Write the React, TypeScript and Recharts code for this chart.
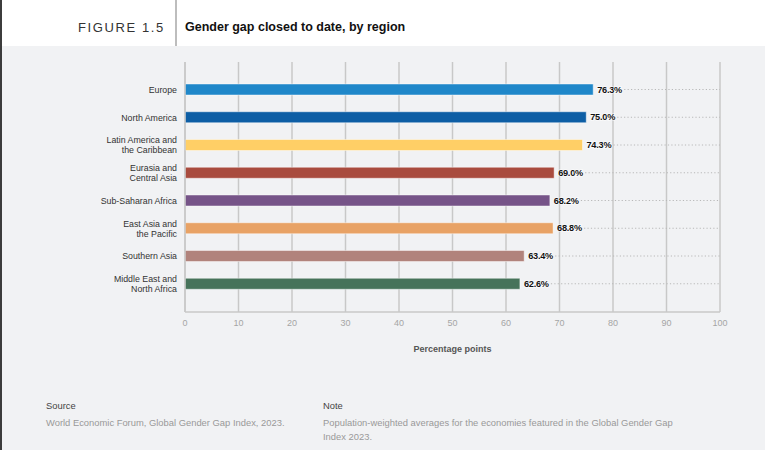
import React from 'react';
import { BarChart, Bar, XAxis, YAxis, CartesianGrid, Cell, LabelList, Label } from 'recharts';

const regions = [
  'Europe',
  'North America',
  'Latin America and\nthe Caribbean',
  'Eurasia and\nCentral Asia',
  'Sub-Saharan Africa',
  'East Asia and\nthe Pacific',
  'Southern Asia',
  'Middle East and\nNorth Africa',
];
const gapClosed = [76.3, 75.0, 74.3, 69.0, 68.2, 68.8, 63.4, 62.6];
const barColors = ['#1f87c9', '#0d5ea5', '#ffcf66', '#a94b3e', '#765488', '#e8a265', '#b1837c', '#46735a'];
const xTicks = [0, 10, 20, 30, 40, 50, 60, 70, 80, 90, 100];
const FULL_SCALE = 100;

const data = regions.map((region, i) => ({
  region,
  value: gapClosed[i],
  rest: Math.round((FULL_SCALE - gapClosed[i]) * 10) / 10,
}));

const FONT = '"Liberation Sans", Arial, Helvetica, sans-serif';
const BG = '#f1f2f4';
const GRID = '#c8c8c8';

const YTick = (props: any) => {
  const { x, y, payload } = props;
  const lines = String(payload.value).split('\n');
  const lh = 10;
  const start = -((lines.length - 1) * lh) / 2;
  return (
    <text x={x} y={y} textAnchor="end" fontSize={8.8} fill="#333" fontFamily={FONT} dominantBaseline="central">
      {lines.map((l, i) => (
        <tspan key={i} x={x} y={y + start + i * lh}>
          {l}
        </tspan>
      ))}
    </text>
  );
};

const ValueLabel = (props: any) => {
  const vb = props.viewBox && props.viewBox.width !== undefined ? props.viewBox : props;
  const { x, y, width, height } = vb;
  const v = Number(props.value);
  return (
    <text
      x={x + width + 4}
      y={y + height / 2}
      dominantBaseline="central"
      fontSize={9.2}
      fontWeight="bold"
      fill="#111"
      stroke="#ffffff"
      strokeOpacity={0.7}
      strokeWidth={1.6}
      paintOrder="stroke"
      letterSpacing={-0.25}
      fontFamily={FONT}
    >
      {v.toFixed(1)}%
    </text>
  );
};

const DotShape = (props: any) => {
  const { x, y, width, height } = props;
  const cy = y + height / 2;
  const x1 = x + 31;
  const x2 = x + width;
  if (x1 >= x2) return null;
  return <line x1={x1} x2={x2} y1={cy} y2={cy} stroke="#b8b8b8" strokeWidth={1} strokeDasharray="1.2 2.2" />;
};

export default function App() {
  return (
    <div
      style={{
        position: 'absolute',
        left: 0,
        top: 0,
        width: 765,
        height: 450,
        background: BG,
        fontFamily: FONT,
        overflow: 'hidden',
      }}
    >
      <div style={{ position: 'absolute', left: 0, top: 0, width: 765, height: 46, background: '#ffffff' }} />
      <div style={{ position: 'absolute', left: 175, top: 0, width: 2, height: 46, background: '#bdbdbd' }} />
      <div style={{ position: 'absolute', left: 0, top: 0, width: 2, height: 450, background: '#3c3c3c' }} />
      <div
        style={{
          position: 'absolute',
          left: 78,
          top: 19,
          lineHeight: '17px',
          fontSize: 13,
          letterSpacing: 1.6,
          color: '#333',
          whiteSpace: 'nowrap',
        }}
      >
        FIGURE 1.5
      </div>
      <div
        style={{
          position: 'absolute',
          left: 185,
          top: 19,
          lineHeight: '17px',
          fontSize: 12.5,
          fontWeight: 'bold',
          color: '#111',
          whiteSpace: 'nowrap',
        }}
      >
        Gender gap closed to date, by region
      </div>

      <div style={{ position: 'absolute', left: 0, top: 0 }}>
        <BarChart
          width={765}
          height={450}
          data={data}
          layout="vertical"
          margin={{ top: 62, right: 45, bottom: 98, left: 0 }}
          barSize={11}
        >
          <CartesianGrid horizontal={false} stroke={GRID} strokeWidth={1.5} />
          <XAxis
            type="number"
            domain={[0, FULL_SCALE]}
            ticks={xTicks}
            interval={0}
            axisLine={{ stroke: GRID, strokeWidth: 1.5 }}
            tickLine={false}
            tick={{ fontSize: 9, fill: '#a5a5a5', fontFamily: FONT }}
            height={40}
          >
            <Label
              value="Percentage points"
              position="insideBottom"
              offset={0}
              style={{ fontSize: 9, fontWeight: 'bold', fill: '#555', fontFamily: FONT }}
            />
          </XAxis>
          <XAxis
            xAxisId="top"
            orientation="top"
            type="number"
            domain={[0, FULL_SCALE]}
            axisLine={{ stroke: GRID, strokeWidth: 1.5 }}
            tick={false}
            tickLine={false}
            height={0}
          />
          <YAxis
            type="category"
            dataKey="region"
            width={185}
            interval={0}
            axisLine={{ stroke: GRID, strokeWidth: 1.5 }}
            tickLine={false}
            tick={<YTick />}
            padding={{ top: 14, bottom: 14 }}
          />
          <Bar
            dataKey="value"
            stackId="a"
            isAnimationActive={false}
            stroke="rgba(255,255,255,0.45)"
            strokeWidth={1}
          >
            {data.map((d, i) => (
              <Cell key={d.region} fill={barColors[i]} />
            ))}
            <LabelList dataKey="value" content={ValueLabel} />
          </Bar>
          <Bar dataKey="rest" stackId="a" isAnimationActive={false} shape={DotShape} />
        </BarChart>
      </div>

      <div style={{ position: 'absolute', left: 46, top: 399, fontSize: 9.4, lineHeight: '14px', color: '#444' }}>
        Source
      </div>
      <div style={{ position: 'absolute', left: 46, top: 416, fontSize: 9.4, lineHeight: '13px', color: '#999', whiteSpace: 'nowrap' }}>
        World Economic Forum, Global Gender Gap Index, 2023.
      </div>
      <div style={{ position: 'absolute', left: 323, top: 399, fontSize: 9.4, lineHeight: '14px', color: '#444' }}>
        Note
      </div>
      <div style={{ position: 'absolute', left: 323, top: 416, fontSize: 9.4, lineHeight: '13.5px', color: '#999', whiteSpace: 'nowrap' }}>
        Population-weighted averages for the economies featured in the Global Gender Gap
        <br />
        Index 2023.
      </div>
    </div>
  );
}
